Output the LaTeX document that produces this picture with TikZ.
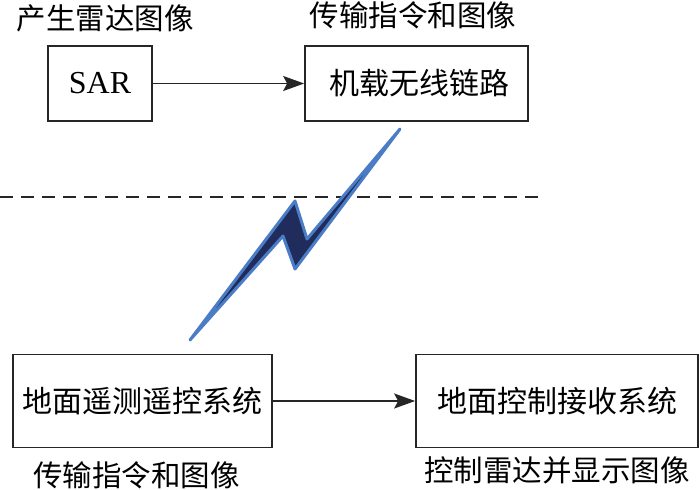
\documentclass[tikz,border=0pt]{standalone}
\usepackage{fontspec}
\setmainfont{Liberation Serif}
\newfontfamily\cjk{Noto Sans CJK SC}
\usetikzlibrary{positioning}
\usetikzlibrary{arrows.meta}
\definecolor{boltfill}{HTML}{1F2C5C}
\definecolor{boltedge}{HTML}{4A7DC6}
\tikzset{
    box/.style = {rectangle, draw=black!85, line width=1.7pt, inner sep=0pt, align=center, font=\cjk\fontsize{30}{36}\selectfont},
    lab/.style = {inner sep=0pt, font=\cjk\fontsize{29.5}{36}\selectfont},
    edgen/.style = {-{Stealth[length=21pt,width=15pt,inset=4pt]}, line width=1.7pt, draw=black!85},
    sepline/.style = {line width=2.3pt, draw=black!85, dash pattern=on 13pt off 8pt},
    bolt/.style = {fill=boltfill, draw=boltedge, line width=3pt, line join=round}
}

\begin{document}
\begin{tikzpicture}[x=1pt,y=-1pt]
  \useasboundingbox (0,0) rectangle (700,489);
  % airborne side
  \node[box, minimum width=104pt, minimum height=75pt, font=\fontsize{32}{38}\selectfont] (sar) at (100,83.5) {SAR};
  \node[box, minimum width=223pt, minimum height=75pt] (link) at (416.5,83.5) {\hspace{6pt}机载无线链路};
  \node[lab] (labsar) at (105,18) {产生雷达图像};
  \node[lab] (lablink) at (413,15) {传输指令和图像};

  % ground side
  \node[box, minimum width=259pt, minimum height=93pt] (ground) at (142.5,401) {地面遥测遥控系统};
  \node[box, minimum width=282pt, minimum height=93pt] (recv) at (557,401) {地面控制接收系统};
  \node[lab] (labground) at (136.5,475) {传输指令和图像};
  \node[lab] (labrecv) at (557,470) {控制雷达并显示图像};

  \draw[edgen] (sar) -- (link);
  \draw[edgen] (ground) -- (recv);

  % air / ground boundary
  \coordinate (sepl) at (0,197);
  \coordinate (sepr) at (545,197);
  \draw[sepline] (sepl) -- (sepr);

  % radio link
  \coordinate (b1) at (190,340);
  \coordinate (b2) at (295,201);
  \coordinate (b3) at (307,239);
  \coordinate (b4) at (400,129);
  \coordinate (b5) at (295,269);
  \coordinate (b6) at (283,236);
  \draw[bolt] (b1) -- (b2) -- (b3) -- (b4) -- (b5) -- (b6) -- cycle;
\end{tikzpicture}
\end{document}
